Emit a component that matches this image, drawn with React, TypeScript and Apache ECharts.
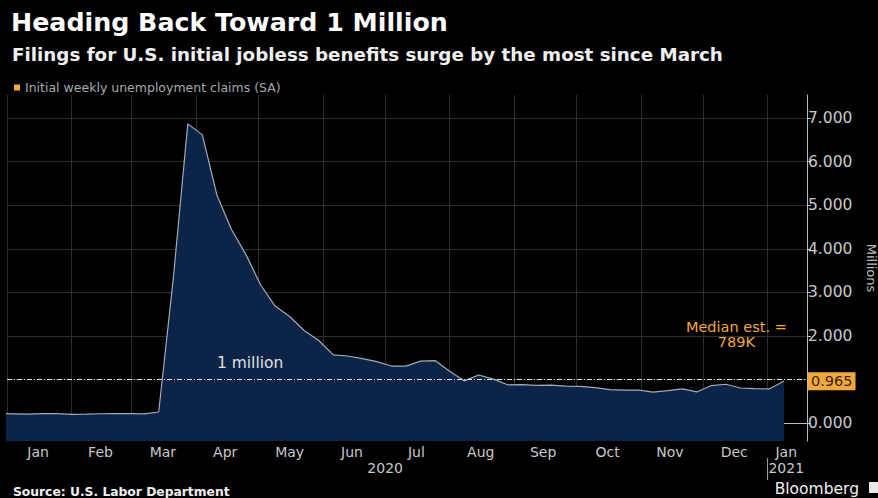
import React, { useEffect, useRef } from "react";
import * as echarts from "echarts";

const weekDates = [
  "2019-12-28",
  "2020-01-04", "2020-01-11", "2020-01-18", "2020-01-25", "2020-02-01", "2020-02-08", "2020-02-15",
  "2020-02-22", "2020-02-29", "2020-03-07", "2020-03-14", "2020-03-21", "2020-03-28", "2020-04-04",
  "2020-04-11", "2020-04-18", "2020-04-25", "2020-05-02", "2020-05-09", "2020-05-16", "2020-05-23",
  "2020-05-30", "2020-06-06", "2020-06-13", "2020-06-20", "2020-06-27", "2020-07-04", "2020-07-11",
  "2020-07-18", "2020-07-25", "2020-08-01", "2020-08-08", "2020-08-15", "2020-08-22", "2020-08-29",
  "2020-09-05", "2020-09-12", "2020-09-19", "2020-09-26", "2020-10-03", "2020-10-10", "2020-10-17",
  "2020-10-24", "2020-10-31", "2020-11-07", "2020-11-14", "2020-11-21", "2020-11-28", "2020-12-05",
  "2020-12-12", "2020-12-19", "2020-12-26", "2021-01-02", "2021-01-09",
];

// Initial weekly unemployment claims (SA), millions
const claims = [
  0.220,
  0.214, 0.207, 0.220, 0.217, 0.203, 0.206, 0.215,
  0.220, 0.217, 0.211, 0.256, 3.307, 6.867, 6.615,
  5.237, 4.442, 3.867, 3.176, 2.687, 2.446, 2.126,
  1.897, 1.566, 1.540, 1.482, 1.413, 1.310, 1.308,
  1.422, 1.435, 1.191, 0.971, 1.104, 1.011, 0.880,
  0.884, 0.866, 0.873, 0.849, 0.845, 0.813, 0.770,
  0.758, 0.757, 0.711, 0.748, 0.787, 0.716, 0.862,
  0.892, 0.806, 0.790, 0.787, 0.965,
];

const yTicks = [0, 1, 2, 3, 4, 5, 6, 7];
const yTickLabels = [0, 2, 3, 4, 5, 6, 7];
const monthStarts = [
  "2020-01-01", "2020-02-01", "2020-03-01", "2020-04-01", "2020-05-01", "2020-06-01", "2020-07-01",
  "2020-08-01", "2020-09-01", "2020-10-01", "2020-11-01", "2020-12-01", "2021-01-01",
];
// label positions (mid-month; the last one sits under the final data point)
const monthMids = [
  "2020-01-16", "2020-02-15", "2020-03-16", "2020-04-15", "2020-05-16", "2020-06-15", "2020-07-16",
  "2020-08-16", "2020-09-15", "2020-10-16", "2020-11-15", "2020-12-16", "2021-01-10",
];
const monthNames = ["Jan", "Feb", "Mar", "Apr", "May", "Jun", "Jul", "Aug", "Sep", "Oct", "Nov", "Dec"];
const yearLabelDates = ["2020-07-01", "2021-01-10"];
const yearBoundary = ["2021-01-01"];

const threshold = 1;
const lastValue = 0.965;

const ts = (d: string) => new Date(d + "T00:00:00Z").getTime();

export default function App() {
  const ref = useRef<HTMLDivElement>(null);
  useEffect(() => {
    if (!ref.current) return;
    const chart = echarts.init(ref.current, undefined, { renderer: "svg" });
    const orange = "#f2a93b";
    const grey = "#c9c9c9";
    const font = "'DejaVu Sans', sans-serif";
    const seriesName = "Initial weekly unemployment claims (SA)";
    chart.setOption({
      animation: false,
      backgroundColor: "#000000",
      textStyle: { fontFamily: font },
      title: [
        {
          text: "Heading Back Toward 1 Million",
          left: 6,
          top: 5,
          textStyle: { color: "#ffffff", fontSize: 25.3, fontWeight: "bold", fontFamily: font },
        },
        {
          text: "Filings for U.S. initial jobless benefits surge by the most since March",
          left: 7,
          top: 40,
          textStyle: { color: "#f0f0f0", fontSize: 18.3, fontWeight: "bold", fontFamily: font },
        },
        {
          text: "Source: U.S. Labor Department",
          left: 8,
          top: 481,
          textStyle: { color: "#f0f0f0", fontSize: 12.3, fontWeight: "bold", fontFamily: font },
        },
        {
          text: "Bloomberg",
          right: 14,
          top: 476,
          textStyle: { color: "#f0f0f0", fontSize: 15.5, fontWeight: "normal", fontFamily: font },
        },
      ],
      graphic: [
        { type: "rect", right: 0, top: 482, shape: { width: 9, height: 11 }, style: { fill: "#e8e8e8" } },
      ],
      legend: {
        left: 9,
        top: 76,
        icon: "rect",
        itemWidth: 6,
        itemHeight: 6,
        itemGap: 4,
        textStyle: { color: "#a8a8a8", fontSize: 12.5, fontFamily: font },
        data: [{ name: seriesName, itemStyle: { color: orange } }],
      },
      grid: { left: 7, right: 71, top: 95, bottom: 57, outerBoundsMode: "none", containLabel: false },
      xAxis: [
        {
          type: "value",
          min: ts("2020-01-01"),
          max: ts("2021-01-20"),
          axisLine: { show: true, lineStyle: { color: "#bdbdbd", width: 1 } },
          axisTick: { show: true, customValues: monthStarts.map(ts), length: 4, lineStyle: { color: "#bdbdbd" } },
          axisLabel: {
            customValues: monthMids.map(ts),
            formatter: (v: number) => monthNames[new Date(v).getUTCMonth()],
            color: grey,
            fontSize: 14,
            margin: 4,
            fontFamily: font,
          },
          splitLine: { show: true, customValues: monthStarts.map(ts), lineStyle: { color: "#2e2e2e", width: 1 } },
        },
        {
          type: "value",
          min: ts("2020-01-01"),
          max: ts("2021-01-20"),
          position: "bottom",
          offset: 17,
          axisLine: { show: false },
          axisTick: { show: true, customValues: yearBoundary.map(ts), length: 22, lineStyle: { color: "#9a9a9a" } },
          axisLabel: {
            customValues: yearLabelDates.map(ts),
            formatter: (v: number) => String(new Date(v).getUTCFullYear()),
            color: grey,
            fontSize: 14,
            margin: 3,
            fontFamily: font,
          },
          splitLine: { show: false },
        },
      ],
      yAxis: {
        type: "value",
        position: "right",
        min: -0.41,
        max: 7.53,
        name: "Millions",
        nameLocation: "middle",
        nameRotate: -90,
        nameGap: 58,
        nameTextStyle: { color: "#bdbdbd", fontSize: 13, fontFamily: font },
        axisLine: { show: true, lineStyle: { color: "#bdbdbd", width: 1 } },
        axisTick: { show: true, customValues: yTicks, length: 4, lineStyle: { color: "#bdbdbd" } },
        axisLabel: {
          customValues: yTickLabels,
          formatter: (v: number) => v.toFixed(3),
          color: grey,
          fontSize: 15.5,
          margin: 1,
          fontFamily: font,
        },
        splitLine: { show: true, customValues: yTicks, lineStyle: { color: "#2e2e2e", width: 1 } },
      },
      series: [
        {
          name: seriesName,
          type: "line",
          xAxisIndex: 0,
          data: weekDates.map((d, i) => [ts(d), claims[i]]),
          showSymbol: false,
          symbol: "none",
          itemStyle: { color: orange },
          lineStyle: { color: "#a3abb6", width: 1.2 },
          areaStyle: { color: "#0b2447", opacity: 1, origin: "start" },
          markLine: {
            silent: true,
            symbol: "none",
            data: [
              {
                yAxis: threshold,
                lineStyle: { color: "#e6e6e6", type: [5, 2, 1, 2], width: 1.2 },
                label: { show: false },
              },
              {
                yAxis: lastValue,
                lineStyle: { color: "rgba(0,0,0,0)", width: 0 },
                label: {
                  show: true,
                  position: "end",
                  distance: 1,
                  formatter: () => lastValue.toFixed(3),
                  backgroundColor: orange,
                  color: "#3a2200",
                  fontSize: 14.5,
                  padding: [2, 3, 1, 3],
                  fontFamily: font,
                },
              },
            ],
          },
          markPoint: {
            silent: true,
            symbol: "circle",
            symbolSize: 0,
            data: [
              {
                coord: [ts("2020-04-27"), threshold],
                label: {
                  show: true,
                  formatter: "1 million",
                  color: "#e0e0e0",
                  fontSize: 15.5,
                  offset: [0, -17],
                  fontFamily: font,
                },
              },
              {
                coord: [ts("2020-12-17"), 2.04],
                label: {
                  show: true,
                  formatter: "Median est. =\n789K",
                  color: orange,
                  fontSize: 14.5,
                  lineHeight: 15,
                  align: "center",
                  fontFamily: font,
                },
              },
            ],
          },
        },
      ],
    });
    return () => chart.dispose();
  }, []);
  return (
    <div
      ref={ref}
      style={{ position: "absolute", left: 0, top: 0, width: 878, height: 498, background: "#000" }}
    />
  );
}
